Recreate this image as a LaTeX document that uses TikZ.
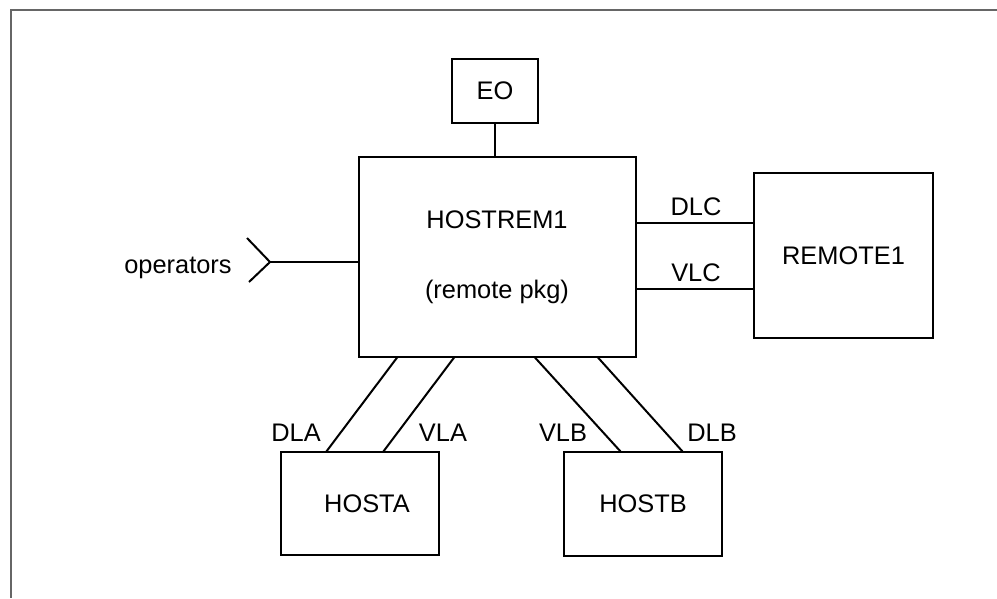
\documentclass[tikz,border=0pt]{standalone}
\usepackage{fontspec}
\setmainfont{Liberation Sans}
\begin{document}
\begin{tikzpicture}[x=1pt,y=-1pt,line width=2pt,
    every node/.style={font=\fontsize{25.4}{30}\selectfont},
    box/.style={draw,inner sep=0pt,outer sep=0pt}]
	\useasboundingbox (0,0) rectangle (997,598);
	% frame
	\draw[black!60] (997,10) -- (11,10) -- (11,598);
	% boxes
	\node[box,minimum width=86pt,minimum height=64pt] (eo) at (495,91) {EO};
	\node[box,minimum width=277pt,minimum height=200pt,align=center] (hostrem) at (497,257) {HOSTREM1\\[40pt](remote pkg)};
	\node[box,minimum width=179pt,minimum height=165pt] (remote) at (843.5,255.5) {REMOTE1};
	\node[box,minimum width=158pt,minimum height=103pt,label={[xshift=7pt]center:HOSTA}] (hosta) at (360,503.5) {};
	\node[box,minimum width=158pt,minimum height=104pt] (hostb) at (643,504) {HOSTB};
	% EO link
	\draw (eo.south) -- (eo.south |- hostrem.north);
	% operators input
	\coordinate (opin) at (270,262);
	\node[anchor=east] (ops) at (236,268) {operators};
	\draw (opin) -- (opin -| hostrem.west);
	\draw (opin) ++(-23,-24) -- (opin) -- ++(-21,20);
	% links to remote
	\draw ([yshift=34pt]hostrem.east) -- ([yshift=34pt]hostrem.east -| remote.west);
	\draw ([yshift=-32pt]hostrem.east) -- ([yshift=-32pt]hostrem.east -| remote.west);
	\node (dlc) at (696,207) {DLC};
	\node (vlc) at (696,273) {VLC};
	% links to hosts
	\draw ([xshift=39pt]hostrem.south west) -- ([xshift=45pt]hosta.north west);
	\draw ([xshift=96pt]hostrem.south west) -- ([xshift=102pt]hosta.north west);
	\draw ([xshift=176pt]hostrem.south west) -- ([xshift=57pt]hostb.north west);
	\draw ([xshift=239pt]hostrem.south west) -- ([xshift=119pt]hostb.north west);
	\node (dla) at (296,433) {DLA};
	\node (vla) at (443,433) {VLA};
	\node (vlb) at (563,433) {VLB};
	\node (dlb) at (712,433) {DLB};
\end{tikzpicture}
\end{document}
